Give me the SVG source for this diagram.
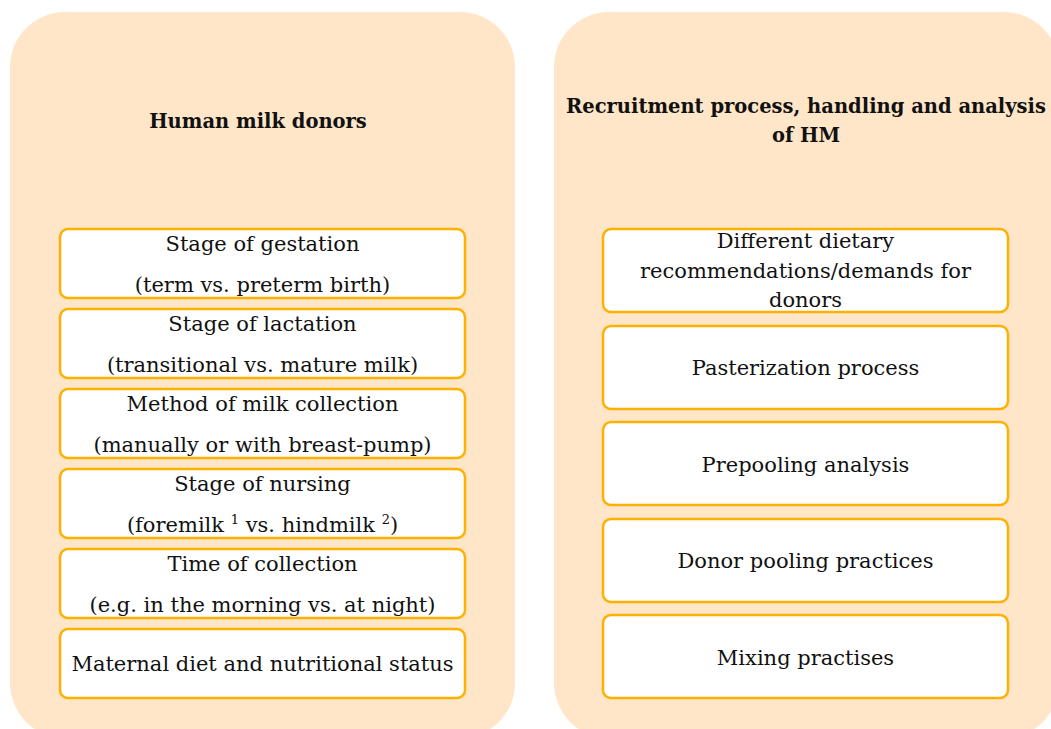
<svg xmlns="http://www.w3.org/2000/svg" width="1051" height="729" viewBox="0 0 1051 729">
<style>
.panel{fill:#FFE6C8;}
.box{fill:#FFFFFF;stroke:#FFB000;stroke-width:2.5;}
.t{font-family:"DejaVu Serif","Liberation Serif",serif;font-size:21px;fill:#111;text-anchor:middle;}
.h{font-family:"DejaVu Serif","Liberation Serif",serif;font-size:19.5px;font-weight:bold;fill:#111;text-anchor:middle;}
</style>
<rect width="1051" height="729" fill="#FFFFFF"/>
<g id="panel-left">
<rect class="panel" x="10" y="12" width="505" height="726" rx="55"/>
<text class="h" x="258" y="128" font-size="20.5">Human milk donors</text>
</g>
<g id="panel-right">
<rect class="panel" x="554" y="12" width="505" height="726" rx="55"/>
<text class="h" x="806" y="113">Recruitment process, handling and analysis</text>
<text class="h" x="806" y="142">of HM</text>
</g>
<g id="connectors"></g>
<g id="n-gestation">
<rect class="box" x="60" y="229" width="405" height="69" rx="8"/>
<text class="t" x="262.5" y="251">Stage of gestation</text>
<text class="t" x="262.5" y="292">(term vs. preterm birth)</text>
</g>
<g id="n-lactation">
<rect class="box" x="60" y="309" width="405" height="69" rx="8"/>
<text class="t" x="262.5" y="331">Stage of lactation</text>
<text class="t" x="262.5" y="372">(transitional vs. mature milk)</text>
</g>
<g id="n-method">
<rect class="box" x="60" y="389" width="405" height="69" rx="8"/>
<text class="t" x="262.5" y="411">Method of milk collection</text>
<text class="t" x="262.5" y="452">(manually or with breast-pump)</text>
</g>
<g id="n-nursing">
<rect class="box" x="60" y="469" width="405" height="69" rx="8"/>
<text class="t" x="262.5" y="491">Stage of nursing</text>
<text class="t" x="262.5" y="532">(foremilk <tspan font-size="13" dy="-8">1</tspan><tspan dy="8"> vs. hindmilk </tspan><tspan font-size="13" dy="-8">2</tspan><tspan dy="8">)</tspan></text>
</g>
<g id="n-time">
<rect class="box" x="60" y="549" width="405" height="69" rx="8"/>
<text class="t" x="262.5" y="571">Time of collection</text>
<text class="t" x="262.5" y="612">(e.g. in the morning vs. at night)</text>
</g>
<g id="n-diet">
<rect class="box" x="60" y="629" width="405" height="69" rx="8"/>
<text class="t" x="262.5" y="671">Maternal diet and nutritional status</text>
</g>
<g id="n-dietary">
<rect class="box" x="603" y="229" width="405" height="83" rx="8"/>
<text class="t" x="805.5" y="248">Different dietary</text>
<text class="t" x="805.5" y="278">recommendations/demands for</text>
<text class="t" x="805.5" y="307">donors</text>
</g>
<g id="n-pasterization">
<rect class="box" x="603" y="326" width="405" height="83" rx="8"/>
<text class="t" x="805.5" y="375">Pasterization process</text>
</g>
<g id="n-prepooling">
<rect class="box" x="603" y="422" width="405" height="83" rx="8"/>
<text class="t" x="805.5" y="472">Prepooling analysis</text>
</g>
<g id="n-donorpool">
<rect class="box" x="603" y="519" width="405" height="83" rx="8"/>
<text class="t" x="805.5" y="568">Donor pooling practices</text>
</g>
<g id="n-mixing">
<rect class="box" x="603" y="615" width="405" height="83" rx="8"/>
<text class="t" x="805.5" y="665">Mixing practises</text>
</g>
</svg>
